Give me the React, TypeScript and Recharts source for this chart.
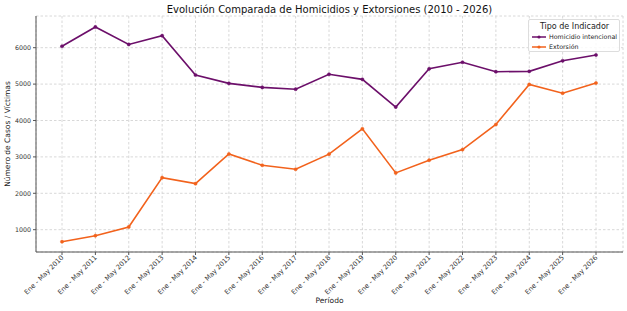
import { LineChart, Line, XAxis, YAxis, CartesianGrid } from "recharts";

const periods = [
  "Ene - May 2010", "Ene - May 2011", "Ene - May 2012", "Ene - May 2013",
  "Ene - May 2014", "Ene - May 2015", "Ene - May 2016", "Ene - May 2017",
  "Ene - May 2018", "Ene - May 2019", "Ene - May 2020", "Ene - May 2021",
  "Ene - May 2022", "Ene - May 2023", "Ene - May 2024", "Ene - May 2025",
  "Ene - May 2026",
];

const homicidios = [
  6040, 6570, 6090, 6330, 5250, 5020, 4910, 4860, 5270,
  5130, 4370, 5420, 5600, 5340, 5350, 5640, 5800,
];

const extorsiones = [
  670, 835, 1075, 2430, 2265, 3080, 2770, 2660, 3075,
  3770, 2560, 2910, 3200, 3890, 4990, 4750, 5030,
];

const yTicks = [1000, 2000, 3000, 4000, 5000, 6000];

const PURPLE = "#6c0f6a";
const ORANGE = "#f2621c";
const FONT = "'DejaVu Sans', sans-serif";

const data = periods.map((p, i) => ({
  periodo: p,
  homicidio: homicidios[i],
  extorsion: extorsiones[i],
}));

function AngledTick({ x, y, payload }: any) {
  const ax = x + 2;
  const ay = y + 1;
  return (
    <text
      x={ax}
      y={ay}
      transform={`rotate(-45, ${ax}, ${ay})`}
      textAnchor="end"
      fontSize={6.7}
      fill="#333"
      fontFamily={FONT}
    >
      {payload.value}
    </text>
  );
}

function LegendBox() {
  const items = [
    { name: "Homicidio intencional", color: PURPLE },
    { name: "Extorsión", color: ORANGE },
  ];
  return (
    <div
      style={{
        position: "absolute",
        top: 19,
        left: 528,
        width: 92,
        height: 33,
        boxSizing: "border-box",
        border: "1px solid #ddd",
        background: "rgba(255,255,255,0.85)",
        borderRadius: 2,
        padding: "2px 2px 0 3px",
        fontFamily: FONT,
      }}
    >
      <div style={{ fontSize: 8, lineHeight: "10px", textAlign: "center", color: "#222", whiteSpace: "nowrap" }}>
        Tipo de Indicador
      </div>
      {items.map((it) => (
        <div key={it.name} style={{ display: "flex", alignItems: "center", fontSize: 6.3, color: "#222", lineHeight: "10px", whiteSpace: "nowrap" }}>
          <svg width={14} height={6} style={{ marginRight: 3, flexShrink: 0 }}>
            <line x1={0} y1={3} x2={14} y2={3} stroke={it.color} strokeWidth={1.5} />
            <circle cx={7} cy={3} r={1.6} fill={it.color} />
          </svg>
          {it.name}
        </div>
      ))}
    </div>
  );
}

export default function App() {
  return (
    <div style={{ position: "absolute", top: 0, left: 0, width: 627, height: 311, background: "#fff" }}>
      <LineChart
        width={627}
        height={311}
        data={data}
        margin={{ top: 16, right: 4, left: 0, bottom: 0 }}
      >
        <CartesianGrid stroke="#d8d8d8" strokeDasharray="2.5 2" />
        <XAxis
          dataKey="periodo"
          interval={0}
          padding={{ left: 26, right: 27 }}
          height={59}
          tick={<AngledTick />}
          tickLine={{ stroke: "#555" }}
          tickSize={3}
          axisLine={{ stroke: "#555" }}
        />
        <XAxis xAxisId="top" orientation="top" dataKey="periodo" height={0} tick={false} tickLine={false} axisLine={{ stroke: "#555" }} />
        <YAxis
          domain={[387, 6871]}
          ticks={yTicks}
          width={36}
          tick={{ fontSize: 6.3, fill: "#333", fontFamily: FONT }}
          tickLine={{ stroke: "#555" }}
          tickSize={3}
          axisLine={{ stroke: "#555" }}
        />
        <YAxis yAxisId="right" orientation="right" width={0} tick={false} tickLine={false} axisLine={{ stroke: "#555" }} />
        <Line
          type="linear"
          dataKey="homicidio"
          stroke={PURPLE}
          strokeWidth={1.6}
          dot={{ r: 1.6, fill: PURPLE, stroke: PURPLE, strokeWidth: 0.5 }}
          isAnimationActive={false}
        />
        <Line
          type="linear"
          dataKey="extorsion"
          stroke={ORANGE}
          strokeWidth={1.6}
          dot={{ r: 1.6, fill: ORANGE, stroke: ORANGE, strokeWidth: 0.5 }}
          isAnimationActive={false}
        />
      </LineChart>
      <div
        style={{
          position: "absolute",
          top: 3,
          left: 36,
          width: 587,
          textAlign: "center",
          fontFamily: FONT,
          fontSize: 10,
          lineHeight: "13px",
          color: "#111",
          whiteSpace: "nowrap",
        }}
      >
        Evolución Comparada de Homicidios y Extorsiones (2010 - 2026)
      </div>
      <div
        style={{
          position: "absolute",
          top: 296,
          left: 36,
          width: 587,
          textAlign: "center",
          fontFamily: FONT,
          fontSize: 7.5,
          lineHeight: "10px",
          color: "#222",
        }}
      >
        Período
      </div>
      <div
        style={{
          position: "absolute",
          left: 8,
          top: 134,
          transform: "translate(-50%, -50%) rotate(-90deg)",
          fontFamily: FONT,
          fontSize: 7.5,
          lineHeight: "10px",
          color: "#222",
          whiteSpace: "nowrap",
        }}
      >
        Número de Casos / Víctimas
      </div>
      <LegendBox />
    </div>
  );
}
